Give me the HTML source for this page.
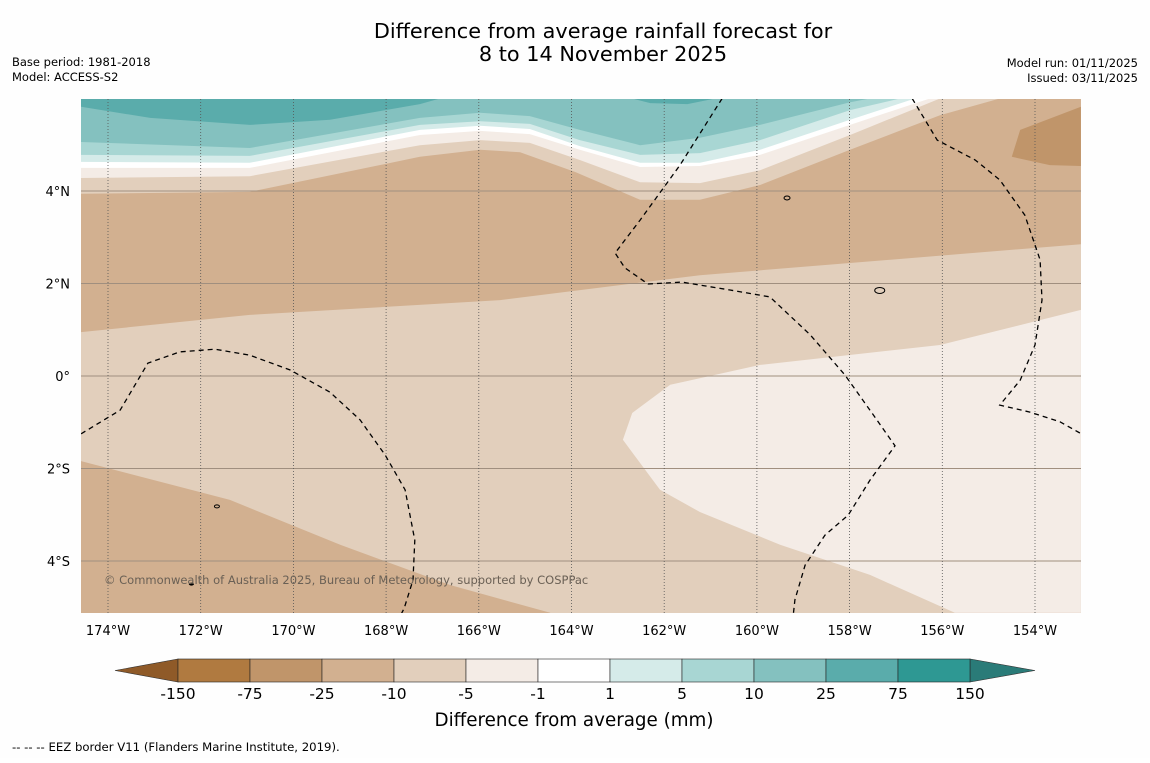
<!DOCTYPE html>
<html><head><meta charset="utf-8"><style>
body{margin:0;background:#fff;font-family:"Liberation Sans","DejaVu Sans",sans-serif}
svg text{font-family:"DejaVu Sans","Liberation Sans",sans-serif}
</style></head><body>
<svg id="chart" width="1150" height="758" viewBox="0 0 1150 758" xmlns="http://www.w3.org/2000/svg">
<rect width="1150" height="758" fill="#fefefe"/>
<text x="603" y="38" font-size="20.8" text-anchor="middle">Difference from average rainfall forecast for</text>
<text x="603" y="61" font-size="20.8" text-anchor="middle">8 to 14 November 2025</text>
<text x="12" y="66" font-size="11.5">Base period: 1981-2018</text>
<text x="12" y="81" font-size="11.5">Model: ACCESS-S2</text>
<text x="1138" y="67" font-size="11.5" text-anchor="end">Model run: 01/11/2025</text>
<text x="1138" y="82" font-size="11.5" text-anchor="end">Issued: 03/11/2025</text>
<defs><clipPath id="mapclip"><rect x="81" y="99" width="1000" height="514"/></clipPath></defs>
<g id="map" clip-path="url(#mapclip)"></g>
<g id="axes"></g>
<g id="cbar"></g>
<text x="574" y="726" font-size="18.3" text-anchor="middle">Difference from average (mm)</text>
<text x="12" y="751" font-size="11.7">--  --  -- EEZ border V11 (Flanders Marine Institute, 2019).</text>
</svg>
<script>
const lonTicks=[174,172,170,168,166,164,162,160,158,156,154];
const latTicks=[4,2,0,-2,-4];
const levels=["-150","-75","-25","-10","-5","-1","1","5","10","25","75","150"];
const levelColors=["#b07a40","#c0956a","#d2b090","#e2cfbc","#f4ece6","#ffffff","#d5ebe9","#a8d6d3","#84c1bf","#5aacab","#2e9893"];
const extendColors=["#8f5a28","#2a7b78"];
const tanTop=[[174.58,0.95],[170.94,1.32],[165.54,1.64],[161.23,2.18],[153.01,2.85]];
const tanBottomLeft=[[174.58,-1.84],[171.37,-2.68],[168.99,-3.65],[166.62,-4.52],[164.46,-5.12]];
const lightLowerRight=[[153.01,1.43],[156.05,0.67],[159.93,0.24],[161.87,-0.19],[162.69,-0.80],[162.89,-1.38],[162.09,-2.46],[161.23,-2.94],[159.50,-3.65],[157.56,-4.30],[155.73,-5.12],[153.01,-5.12]];
const band1=[[174.58,3.94],[170.94,3.98],[167.27,4.74],[165.97,4.89],[165.11,4.84],[163.92,4.41],[162.52,3.81],[161.23,3.81],[159.93,4.13],[157.99,4.89],[156.05,5.64],[154.76,6.0]];
const band2=[[174.58,4.28],[170.94,4.32],[167.27,4.99],[165.97,5.10],[164.90,5.04],[163.82,4.67],[162.52,4.19],[161.23,4.17],[159.93,4.45],[157.99,5.21],[156.05,6.0]];
const band3=[[174.58,4.50],[170.94,4.50],[167.27,5.21],[165.97,5.30],[164.90,5.23],[163.82,4.89],[162.52,4.52],[161.23,4.54],[159.93,4.78],[157.99,5.43],[156.27,6.0]];
const band4=[[174.58,4.63],[170.94,4.61],[167.27,5.32],[165.97,5.41],[164.90,5.34],[163.82,4.97],[162.52,4.61],[161.23,4.61],[159.93,4.89],[157.99,5.54],[156.59,6.0]];
const band5=[[174.58,4.78],[170.94,4.76],[167.27,5.43],[165.97,5.51],[164.90,5.45],[163.82,5.10],[162.52,4.78],[161.23,4.82],[159.93,5.10],[157.99,5.75],[156.91,6.0]];
const band6=[[174.58,5.06],[170.94,4.93],[167.27,5.58],[165.97,5.69],[164.90,5.62],[163.82,5.32],[162.52,4.99],[161.23,5.15],[159.93,5.43],[157.99,5.92],[157.56,6.0]];
const band7=[[174.58,5.82],[173.09,5.58],[170.94,5.43],[169.21,5.54],[167.27,5.88],[166.84,6.0]];
const band7b=[[162.69,6.0],[162.3,5.9],[161.5,5.88],[160.9,6.0]];
const darkPatch=[[154.32,5.32],[153.01,5.82],[153.01,4.54],[153.68,4.56],[154.50,4.74]];
const eezA=[[174.58,-1.25],[173.74,-0.74],[173.14,0.28],[172.45,0.52],[171.69,0.58],[170.94,0.45],[170.07,0.13],[169.21,-0.35],[168.56,-0.95],[168.02,-1.71],[167.59,-2.46],[167.38,-3.55],[167.42,-4.41],[167.61,-5.02],[167.7,-5.2]];
const eezB=[[160.75,6.0],[161.66,4.56],[162.52,3.37],[163.06,2.66],[162.85,2.34],[162.35,1.99],[161.62,2.03],[160.58,1.86],[159.72,1.71],[158.85,0.89],[158.10,0.02],[157.56,-0.74],[157.02,-1.51],[157.56,-2.25],[158.03,-3.01],[158.53,-3.44],[158.96,-4.09],[159.18,-4.84],[159.22,-5.2]];
const eezC=[[156.65,6.0],[156.11,5.10],[155.29,4.67],[154.76,4.24],[154.22,3.48],[153.89,2.51],[153.85,1.64],[154.00,0.67],[154.32,-0.09],[154.76,-0.63],[154.11,-0.78],[153.46,-0.99],[153.0,-1.25]];

const X=lonW=>108+(174-lonW)*46.35;
const Y=lat=>376-lat*46.25;
const NS="http://www.w3.org/2000/svg";
const map=document.getElementById('map');
const axes=document.getElementById('axes');
const cbar=document.getElementById('cbar');
function mk(tag,attrs,parent){const e=document.createElementNS(NS,tag);for(const k in attrs)e.setAttribute(k,attrs[k]);parent.appendChild(e);return e;}
const pts=a=>a.map(p=>X(p[0]).toFixed(1)+','+Y(p[1]).toFixed(1)).join(' ');
function above(b){return b.concat([[b[b.length-1][0],7],[b[0][0]+1,7],[b[0][0]+1,b[0][1]]]);}

let r=mk('rect',{x:81,y:99,width:1000,height:514,fill:'#e2cfbc'},map);


const fills=[
 [above(tanTop),'#d2b090','tan-top-region'],
 [tanBottomLeft.concat([[164.46,-6],[176,-6],[176,-1.84]]),'#d2b090','tan-bottom-left-region'],
 [lightLowerRight,'#f4ece6','light-lower-right-region'],
 [darkPatch,'#c0956a','dark-tan-patch'],
 [above(band1),'#e2cfbc','band-minus10'],
 [above(band2),'#f4ece6','band-minus5'],
 [above(band3),'#ffffff','band-near-zero'],
 [above(band4),'#d5ebe9','band-plus1'],
 [above(band5),'#a8d6d3','band-plus5'],
 [above(band6),'#84c1bf','band-plus10'],
 [above(band7),'#5aacab','band-plus25'],
 [band7b,'#5aacab','band-plus25-patch']];
fills.forEach(f=>{const p=mk('polygon',{points:pts(f[0]),fill:f[1]},map);

});

latTicks.forEach(t=>{const l=mk('line',{x1:81,x2:1081,y1:Y(t),y2:Y(t),stroke:'#a08f7f','stroke-width':1},map);

});
lonTicks.forEach(t=>{const l=mk('line',{x1:X(t),x2:X(t),y1:99,y2:613,stroke:'#555','stroke-width':0.8,'stroke-dasharray':'1,2'},map);

});

[[eezA,'eez-border-west'],[eezB,'eez-border-central'],[eezC,'eez-border-east']].forEach(e=>{
 const p=mk('polyline',{points:pts(e[0]),fill:'none',stroke:'#000','stroke-width':1.3,'stroke-dasharray':'5,4'},map);
 
 });

let isl=mk('ellipse',{cx:X(157.35),cy:Y(1.85),rx:5,ry:3,fill:'none',stroke:'#000','stroke-width':1},map);


let isl2=mk('ellipse',{cx:X(159.35),cy:Y(3.85),rx:3,ry:2,fill:'none',stroke:'#000','stroke-width':1},map);


let isl3=mk('ellipse',{cx:X(171.65),cy:Y(-2.82),rx:2.5,ry:1.5,fill:'none',stroke:'#000','stroke-width':1},map);


let isl4=mk('ellipse',{cx:X(172.2),cy:Y(-4.5),rx:2.5,ry:1.5,fill:'#000'},map);



let cp=mk('text',{x:104,y:584,'font-size':11.5,fill:'#6a6055'},map);
cp.textContent='© Commonwealth of Australia 2025, Bureau of Meteorology, supported by COSPPac';



lonTicks.forEach(t=>{const tx=mk('text',{x:X(t),y:635,'font-size':13,'text-anchor':'middle'},axes);
tx.textContent=t+'°W';

});
latTicks.forEach(t=>{const tx=mk('text',{x:70,y:Y(t)+5,'font-size':13,'text-anchor':'end'},axes);
tx.textContent=t===0?'0°':Math.abs(t)+'°'+(t>0?'N':'S');

});

const cx0=178,cw=72,cy=659,ch=23,n=levelColors.length;
let tl=mk('polygon',{points:`115,${cy+ch/2} ${cx0},${cy} ${cx0},${cy+ch}`,fill:extendColors[0],stroke:'#333','stroke-width':0.6},cbar);


let tr=mk('polygon',{points:`1035,${cy+ch/2} ${cx0+n*cw},${cy} ${cx0+n*cw},${cy+ch}`,fill:extendColors[1],stroke:'#333','stroke-width':0.6},cbar);


levelColors.forEach((c,i)=>{const b=mk('rect',{x:cx0+i*cw,y:cy,width:cw,height:ch,fill:c,stroke:'#222','stroke-width':0.6},cbar);

});
levels.forEach((l,i)=>{const t=mk('text',{x:cx0+i*cw,y:699,'font-size':15.5,'text-anchor':'middle'},cbar);
t.textContent=l;

});
</script>
</body></html>
